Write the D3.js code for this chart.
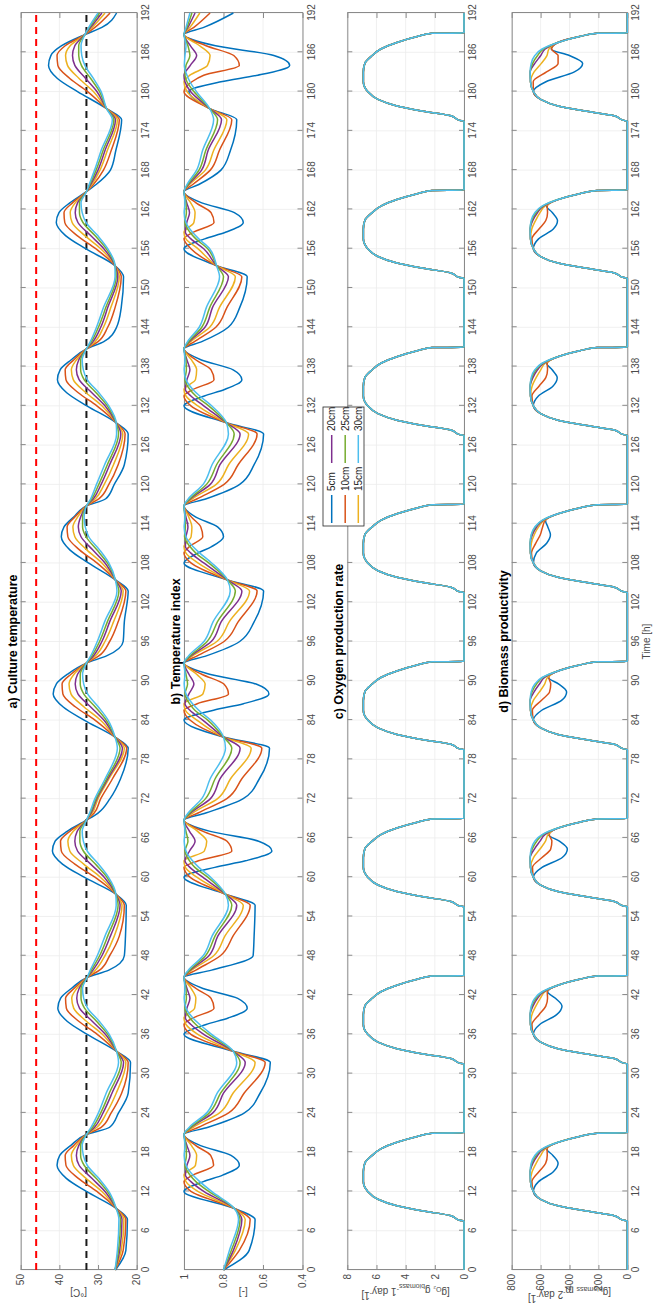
<!DOCTYPE html>
<html>
<head>
<meta charset="utf-8">
<script src="https://cdn.jsdelivr.net/npm/d3@7"></script>
<style>
  body { margin: 0; background: #fff; }
  text { font-family: "Liberation Sans", Arial, sans-serif; }
</style>
</head>
<body>
<svg id="chart" width="656" height="1311"></svg>
<script>
const depthLabels = ["5cm", "10cm", "15cm", "20cm", "25cm", "30cm"];
const depthColors = ["#0072BD", "#D95319", "#EDB120", "#7E2F8E", "#77AC30", "#4DBEEE"];
const timeTicks = [0, 6, 12, 18, 24, 30, 36, 42, 48, 54, 60, 66, 72, 78, 84, 90, 96, 102, 108, 114, 120, 126, 132, 138, 144, 150, 156, 162, 168, 174, 180, 186, 192];

// a) culture temperature [°C]
const tempHours = [
  0, 3, 7.7, 9.4, 12, 14, 16, 17.5, 19, 20.7, 21.8,
  24, 27, 31.7, 33.4, 36, 38, 40, 41.5, 43, 44.7, 45.8,
  48, 51, 55.7, 57.4, 60, 62, 64, 65.5, 67, 68.7, 69.8,
  72, 75, 79.7, 81.4, 84, 86, 88, 89.5, 91, 92.7, 93.8,
  96, 99, 103.7, 105.4, 108, 110, 112, 113.5, 115, 116.7, 117.8,
  120, 123, 127.7, 129.4, 132, 134, 136, 137.5, 139, 140.7, 141.8,
  144, 147, 151.7, 153.4, 156, 158, 160, 161.5, 163, 164.7, 165.8,
  168, 171, 175.7, 177.4, 180, 182, 184, 185.5, 187, 188.7, 189.8,
  192];
const temp5 = [
  25.5, 22.8, 22.4, 25.3, 33.0, 38.2, 40.6, 39.9, 37.1, 33.0, 27.0,
  24.7, 22.2, 21.6, 25.2, 32.8, 38.0, 40.4, 39.7, 36.9, 32.8, 27.2,
  23.2, 22.9, 22.7, 25.4, 33.6, 39.2, 41.8, 41.1, 38.0, 33.0, 30.0,
  26.9, 24.2, 22.2, 25.6, 33.6, 39.0, 41.6, 40.8, 37.9, 33.0, 27.8,
  23.5, 23.2, 22.2, 25.5, 32.5, 37.3, 39.5, 38.8, 36.3, 33.0, 28.0,
  25.8, 23.2, 22.2, 25.3, 32.9, 38.1, 40.5, 39.8, 37.0, 33.0, 28.5,
  25.2, 24.0, 23.4, 25.6, 33.2, 38.4, 40.8, 40.1, 37.3, 33.0, 30.5,
  26.8, 25.4, 23.9, 27.8, 35.3, 40.5, 42.8, 42.2, 39.4, 33.4, 29.0,
  25.2];
const temp10 = [
  25.6, 23.5, 22.8, 25.3, 30.3, 35.1, 38.3, 38.5, 36.3, 33.0, 29.2,
  26.6, 23.9, 22.2, 25.2, 30.2, 35.0, 38.2, 38.4, 36.2, 32.8, 29.6,
  27.0, 24.5, 23.2, 25.4, 30.8, 36.0, 39.5, 39.7, 37.3, 33.0, 31.0,
  29.3, 26.3, 22.6, 25.6, 30.8, 35.8, 39.1, 39.3, 37.0, 33.0, 29.8,
  27.0, 24.8, 22.8, 25.5, 30.3, 34.8, 37.8, 38.0, 36.0, 33.0, 29.8,
  27.2, 24.8, 23.0, 25.3, 30.3, 35.1, 38.3, 38.5, 36.3, 33.0, 30.0,
  27.5, 25.6, 24.0, 25.6, 30.6, 35.4, 38.6, 38.8, 36.6, 33.0, 31.2,
  28.6, 26.6, 24.5, 27.8, 32.7, 37.3, 40.4, 40.6, 38.5, 33.4, 30.8,
  26.9];
const temp15 = [
  25.6, 24.0, 23.3, 25.3, 29.0, 33.1, 36.4, 36.9, 35.6, 33.0, 30.3,
  27.8, 25.3, 22.8, 25.2, 28.9, 33.0, 36.3, 36.8, 35.5, 32.8, 30.7,
  28.2, 25.8, 23.8, 25.4, 29.4, 33.7, 37.3, 37.8, 36.4, 33.0, 31.5,
  30.0, 27.2, 23.2, 25.6, 29.4, 33.6, 37.0, 37.5, 36.2, 33.0, 30.7,
  28.2, 26.0, 23.5, 25.5, 29.0, 32.9, 36.0, 36.5, 35.3, 33.0, 30.7,
  28.4, 26.0, 23.6, 25.3, 29.0, 33.1, 36.4, 36.9, 35.6, 33.0, 30.8,
  28.6, 26.7, 24.5, 25.6, 29.3, 33.4, 36.7, 37.2, 35.9, 33.0, 31.6,
  29.5, 27.6, 25.0, 27.8, 31.2, 34.9, 37.9, 38.4, 37.2, 33.4, 31.5,
  28.2];
const temp20 = [
  25.6, 24.4, 23.8, 25.3, 28.2, 31.6, 34.9, 35.6, 35.0, 33.0, 30.9,
  28.7, 26.4, 23.4, 25.2, 28.1, 31.5, 34.8, 35.5, 34.9, 32.8, 31.3,
  29.0, 26.8, 24.3, 25.4, 28.4, 31.9, 35.3, 36.0, 35.4, 33.0, 31.8,
  30.3, 27.5, 23.7, 25.6, 28.5, 31.9, 35.2, 35.9, 35.3, 33.0, 31.2,
  29.0, 27.0, 24.0, 25.5, 28.2, 31.4, 34.4, 35.1, 34.5, 33.0, 31.2,
  29.2, 27.0, 24.1, 25.3, 28.2, 31.6, 34.9, 35.6, 35.0, 33.0, 31.3,
  29.3, 27.5, 24.9, 25.6, 28.5, 31.9, 35.2, 35.9, 35.3, 33.0, 31.9,
  30.0, 28.2, 25.5, 27.8, 30.3, 33.2, 36.0, 36.6, 36.0, 33.4, 31.9,
  29.0];
const temp25 = [
  25.6, 24.7, 24.2, 25.3, 27.6, 30.5, 33.6, 34.5, 34.5, 33.0, 31.4,
  29.3, 27.1, 24.0, 25.2, 27.5, 30.4, 33.5, 34.4, 34.4, 32.8, 31.7,
  29.6, 27.5, 24.8, 25.4, 27.7, 30.7, 33.8, 34.7, 34.7, 33.0, 32.0,
  30.5, 27.8, 24.3, 25.6, 27.9, 30.7, 33.7, 34.6, 34.6, 33.0, 31.6,
  29.6, 27.6, 24.6, 25.5, 27.6, 30.3, 33.1, 34.0, 34.0, 33.0, 31.6,
  29.8, 27.6, 24.7, 25.3, 27.6, 30.5, 33.6, 34.5, 34.5, 33.0, 31.7,
  29.9, 28.0, 25.3, 25.6, 27.9, 30.8, 33.9, 34.8, 34.8, 33.0, 32.1,
  30.5, 28.7, 25.9, 27.8, 29.6, 31.9, 34.3, 35.0, 35.0, 33.4, 32.2,
  29.6];
const temp30 = [
  25.6, 25.0, 24.6, 25.3, 27.2, 29.8, 32.8, 33.8, 34.1, 33.0, 31.8,
  29.9, 27.9, 24.7, 25.2, 27.1, 29.7, 32.7, 33.7, 34.0, 32.8, 32.0,
  30.2, 28.2, 25.3, 25.4, 27.3, 29.9, 32.8, 33.8, 34.1, 33.0, 32.2,
  30.8, 28.2, 25.0, 25.6, 27.4, 29.9, 32.7, 33.7, 34.0, 33.0, 31.9,
  30.2, 28.3, 25.1, 25.5, 27.2, 29.6, 32.4, 33.3, 33.6, 33.0, 31.9,
  30.4, 28.3, 25.2, 25.3, 27.2, 29.8, 32.8, 33.8, 34.1, 33.0, 32.0,
  30.4, 28.6, 25.6, 25.6, 27.5, 30.1, 33.1, 34.1, 34.4, 33.0, 32.3,
  30.9, 29.2, 26.3, 27.8, 29.2, 31.2, 33.4, 34.2, 34.4, 33.4, 32.4,
  30.0];
const tempOptimum = 33;
const tempMaximum = 46;

// b) temperature index [-]
const indexHours = [
  0, 3, 7.7, 9.4, 12, 13.5, 14.5, 16, 17.5, 19, 20.7, 21.8,
  24, 27, 31.7, 33.4, 36, 37.5, 38.5, 40, 41.5, 43, 44.7, 45.8,
  48, 51, 55.7, 57.4, 60, 61.5, 62.5, 64, 65.5, 67, 68.7, 69.8,
  72, 75, 79.7, 81.4, 84, 85.5, 86.5, 88, 89.5, 91, 92.7, 93.8,
  96, 99, 103.7, 105.4, 108, 109.5, 110.5, 112, 113.5, 115, 116.7, 117.8,
  120, 123, 127.7, 129.4, 132, 133.5, 134.5, 136, 137.5, 139, 140.7, 141.8,
  144, 147, 151.7, 153.4, 156, 157.5, 158.5, 160, 161.5, 163, 164.7, 165.8,
  168, 171, 175.7, 177.4, 180, 181.5, 182.5, 184, 185.5, 187, 188.7, 189.8,
  192];
const index5 = [
  0.80, 0.67, 0.64, 0.745, 1, 0.902, 0.804, 0.72, 0.762, 0.916, 1, 0.878,
  0.694, 0.615, 0.563, 0.75, 1, 0.888, 0.776, 0.68, 0.728, 0.904, 1, 0.86,
  0.65, 0.645, 0.64, 0.79, 1, 0.844, 0.689, 0.555, 0.622, 0.867, 1, 0.89,
  0.70, 0.619, 0.567, 0.80, 1, 0.85, 0.699, 0.57, 0.635, 0.871, 1, 0.887,
  0.718, 0.645, 0.597, 0.78, 1, 0.93, 0.86, 0.80, 0.83, 0.94, 1, 0.887,
  0.718, 0.645, 0.597, 0.785, 1, 0.897, 0.795, 0.707, 0.751, 0.912, 1, 0.91,
  0.776, 0.718, 0.68, 0.835, 1, 0.895, 0.79, 0.70, 0.745, 0.91, 1, 0.925,
  0.813, 0.765, 0.733, 0.87, 0.975, 0.813, 0.626, 0.465, 0.545, 0.84, 1, 0.90,
  0.75];
const index10 = [
  0.80, 0.72, 0.665, 0.745, 0.965, 1, 0.955, 0.85, 0.865, 0.94, 1, 0.926,
  0.774, 0.696, 0.589, 0.75, 0.965, 1, 0.954, 0.848, 0.863, 0.939, 1, 0.94,
  0.816, 0.752, 0.665, 0.79, 0.97, 1, 0.927, 0.758, 0.782, 0.903, 1, 0.929,
  0.783, 0.708, 0.606, 0.80, 0.97, 1, 0.933, 0.775, 0.798, 0.91, 1, 0.933,
  0.797, 0.726, 0.63, 0.78, 0.965, 1, 0.972, 0.905, 0.915, 0.962, 1, 0.933,
  0.797, 0.726, 0.63, 0.785, 0.965, 1, 0.954, 0.848, 0.863, 0.939, 1, 0.947,
  0.839, 0.783, 0.707, 0.835, 0.965, 1, 0.954, 0.848, 0.863, 0.939, 1, 0.956,
  0.867, 0.821, 0.758, 0.87, 1, 0.96, 0.9, 0.72, 0.748, 0.888, 1, 0.95,
  0.868];
const index15 = [
  0.80, 0.74, 0.69, 0.745, 0.93, 0.99, 1, 0.942, 0.936, 0.962, 1, 0.953,
  0.82, 0.752, 0.64, 0.75, 0.93, 0.99, 1, 0.946, 0.94, 0.964, 1, 0.961,
  0.85, 0.793, 0.70, 0.79, 0.935, 0.993, 1, 0.897, 0.885, 0.931, 1, 0.956,
  0.83, 0.765, 0.66, 0.80, 0.935, 0.993, 1, 0.904, 0.893, 0.936, 1, 0.957,
  0.834, 0.771, 0.668, 0.78, 0.93, 0.99, 1, 0.964, 0.96, 0.976, 1, 0.957,
  0.837, 0.774, 0.673, 0.785, 0.93, 0.99, 1, 0.942, 0.936, 0.962, 1, 0.966,
  0.87, 0.821, 0.74, 0.835, 0.93, 0.99, 1, 0.95, 0.944, 0.966, 1, 0.972,
  0.892, 0.85, 0.783, 0.87, 0.985, 1, 0.97, 0.881, 0.868, 0.921, 1, 0.97,
  0.92];
const index20 = [
  0.80, 0.75, 0.707, 0.745, 0.90, 0.965, 0.993, 0.985, 0.97, 0.985, 1, 0.963,
  0.854, 0.80, 0.69, 0.75, 0.90, 0.965, 0.993, 0.985, 0.97, 0.985, 1, 0.968,
  0.874, 0.829, 0.733, 0.79, 0.905, 0.97, 0.995, 0.972, 0.944, 0.972, 1, 0.966,
  0.866, 0.818, 0.716, 0.80, 0.905, 0.97, 0.995, 0.975, 0.95, 0.975, 1, 0.965,
  0.862, 0.812, 0.707, 0.78, 0.90, 0.965, 0.993, 0.99, 0.98, 0.99, 1, 0.966,
  0.867, 0.818, 0.716, 0.785, 0.90, 0.965, 0.993, 0.985, 0.97, 0.985, 1, 0.973,
  0.894, 0.856, 0.775, 0.835, 0.90, 0.965, 0.993, 0.986, 0.972, 0.986, 1, 0.977,
  0.911, 0.878, 0.81, 0.87, 0.967, 0.995, 1, 0.968, 0.936, 0.968, 1, 0.98,
  0.944];
const index25 = [
  0.80, 0.76, 0.716, 0.745, 0.875, 0.94, 0.97, 0.995, 0.988, 0.99, 1, 0.966,
  0.872, 0.815, 0.716, 0.75, 0.875, 0.94, 0.97, 0.995, 0.988, 0.99, 1, 0.971,
  0.891, 0.843, 0.758, 0.79, 0.88, 0.945, 0.972, 0.995, 0.98, 0.99, 1, 0.971,
  0.891, 0.843, 0.758, 0.80, 0.88, 0.945, 0.972, 0.995, 0.982, 0.99, 1, 0.969,
  0.883, 0.831, 0.74, 0.78, 0.875, 0.94, 0.97, 0.997, 0.993, 0.995, 1, 0.97,
  0.886, 0.835, 0.746, 0.785, 0.875, 0.94, 0.97, 0.995, 0.988, 0.99, 1, 0.976,
  0.91, 0.87, 0.80, 0.835, 0.88, 0.94, 0.97, 0.995, 0.988, 0.99, 1, 0.98,
  0.924, 0.89, 0.83, 0.87, 0.95, 0.985, 0.995, 0.99, 0.97, 0.98, 1, 0.985,
  0.96];
const index30 = [
  0.80, 0.77, 0.724, 0.745, 0.86, 0.92, 0.955, 0.99, 0.999, 0.995, 1, 0.973,
  0.885, 0.832, 0.733, 0.75, 0.86, 0.92, 0.955, 0.99, 0.999, 0.995, 1, 0.978,
  0.903, 0.858, 0.775, 0.79, 0.865, 0.925, 0.957, 0.99, 0.999, 0.995, 1, 0.979,
  0.91, 0.868, 0.79, 0.80, 0.865, 0.925, 0.957, 0.99, 0.999, 0.995, 1, 0.977,
  0.899, 0.853, 0.766, 0.78, 0.86, 0.92, 0.955, 0.99, 0.999, 0.995, 1, 0.978,
  0.903, 0.858, 0.775, 0.785, 0.86, 0.92, 0.955, 0.99, 0.999, 0.995, 1, 0.982,
  0.923, 0.887, 0.82, 0.835, 0.87, 0.925, 0.957, 0.99, 0.999, 0.995, 1, 0.985,
  0.936, 0.906, 0.85, 0.87, 0.937, 0.97, 0.985, 0.998, 0.995, 0.99, 1, 0.99,
  0.97];

// c) oxygen production rate and d) biomass productivity
const prodHours = [
  0, 7.5, 7.6, 8.3, 9, 9.8, 10.8, 12, 13.5, 15, 16.3, 17.5, 18.5, 19.5, 20.4, 20.9, 20.95,
  24, 31.5, 31.6, 32.3, 33, 33.8, 34.8, 36, 37.5, 39, 40.3, 41.5, 42.5, 43.5, 44.4, 44.9, 44.95,
  48, 55.5, 55.6, 56.3, 57, 57.8, 58.8, 60, 61.5, 63, 64.3, 65.5, 66.5, 67.5, 68.4, 68.9, 68.95,
  72, 79.5, 79.6, 80.3, 81, 81.8, 82.8, 84, 85.5, 87, 88.3, 89.5, 90.5, 91.5, 92.4, 92.9, 92.95,
  96, 103.5, 103.6, 104.3, 105, 105.8, 106.8, 108, 109.5, 111, 112.3, 113.5, 114.5, 115.5, 116.4, 116.9, 116.95,
  120, 127.5, 127.6, 128.3, 129, 129.8, 130.8, 132, 133.5, 135, 136.3, 137.5, 138.5, 139.5, 140.4, 140.9, 140.95,
  144, 151.5, 151.6, 152.3, 153, 153.8, 154.8, 156, 157.5, 159, 160.3, 161.5, 162.5, 163.5, 164.4, 164.9, 164.95,
  168, 175.5, 175.6, 176.3, 177, 177.8, 178.8, 180, 181.5, 183, 184.3, 185.5, 186.5, 187.5, 188.4, 188.9, 188.95,
  192];
const o2Rate = [
  0, 0, 0.3, 0.9, 2.8, 4.6, 5.9, 6.6, 6.9, 6.9, 6.8, 6.3, 5.7, 4.6, 3.2, 2.2, 0,
  0, 0, 0.3, 0.9, 2.8, 4.6, 5.9, 6.6, 6.9, 6.9, 6.8, 6.3, 5.7, 4.6, 3.2, 2.2, 0,
  0, 0, 0.3, 0.9, 2.8, 4.6, 5.9, 6.6, 6.9, 6.9, 6.8, 6.3, 5.7, 4.6, 3.2, 2.2, 0,
  0, 0, 0.3, 0.9, 2.8, 4.6, 5.9, 6.6, 6.9, 6.9, 6.8, 6.3, 5.7, 4.6, 3.2, 2.2, 0,
  0, 0, 0.3, 0.9, 2.8, 4.6, 5.9, 6.6, 6.9, 6.9, 6.8, 6.3, 5.7, 4.6, 3.2, 2.2, 0,
  0, 0, 0.3, 0.9, 2.8, 4.6, 5.9, 6.6, 6.9, 6.9, 6.8, 6.3, 5.7, 4.6, 3.2, 2.2, 0,
  0, 0, 0.3, 0.9, 2.8, 4.6, 5.9, 6.6, 6.9, 6.9, 6.8, 6.3, 5.7, 4.6, 3.2, 2.2, 0,
  0, 0, 0.3, 0.9, 2.8, 4.6, 5.9, 6.6, 6.9, 6.9, 6.8, 6.3, 5.7, 4.6, 3.2, 2.2, 0,
  0];
const bio5 = [
  0, 0, 25, 90, 280, 480, 600, 650, 614, 512, 479, 515, 557, 480, 330, 210, 0,
  0, 0, 25, 90, 280, 480, 600, 650, 606, 489, 452, 497, 552, 480, 330, 210, 0,
  0, 0, 25, 90, 280, 480, 600, 650, 590, 450, 415, 470, 545, 480, 330, 210, 0,
  0, 0, 25, 90, 280, 480, 600, 650, 592, 455, 420, 474, 547, 480, 330, 210, 0,
  0, 0, 25, 90, 280, 480, 600, 650, 630, 558, 532, 550, 566, 480, 330, 210, 0,
  0, 0, 25, 90, 280, 480, 600, 650, 615, 515, 485, 520, 558, 480, 330, 210, 0,
  0, 0, 25, 90, 280, 480, 600, 650, 614, 512, 483, 518, 558, 480, 330, 210, 0,
  0, 0, 25, 90, 280, 480, 600, 650, 563, 366, 309, 401, 527, 480, 330, 210, 0,
  0];
const bio10 = [
  0, 0, 25, 90, 280, 480, 600, 650, 660, 612, 565, 554, 555, 480, 330, 210, 0,
  0, 0, 25, 90, 280, 480, 600, 650, 660, 611, 564, 552, 554, 480, 330, 210, 0,
  0, 0, 25, 90, 280, 480, 600, 650, 656, 590, 530, 522, 540, 480, 330, 210, 0,
  0, 0, 25, 90, 280, 480, 600, 650, 657, 595, 538, 530, 543, 480, 330, 210, 0,
  0, 0, 25, 90, 280, 480, 600, 650, 663, 634, 602, 586, 568, 480, 330, 210, 0,
  0, 0, 25, 90, 280, 480, 600, 650, 660, 611, 564, 552, 554, 480, 330, 210, 0,
  0, 0, 25, 90, 280, 480, 600, 650, 660, 611, 564, 552, 554, 480, 330, 210, 0,
  0, 0, 25, 90, 280, 480, 600, 650, 651, 559, 479, 479, 524, 480, 330, 210, 0,
  0];
const bio15 = [
  0, 0, 25, 90, 280, 480, 600, 650, 670, 659, 631, 599, 568, 480, 330, 210, 0,
  0, 0, 25, 90, 280, 480, 600, 650, 670, 660, 633, 602, 569, 480, 330, 210, 0,
  0, 0, 25, 90, 280, 480, 600, 650, 670, 649, 604, 566, 549, 480, 330, 210, 0,
  0, 0, 25, 90, 280, 480, 600, 650, 670, 650, 608, 572, 552, 480, 330, 210, 0,
  0, 0, 25, 90, 280, 480, 600, 650, 670, 664, 644, 614, 576, 480, 330, 210, 0,
  0, 0, 25, 90, 280, 480, 600, 650, 670, 659, 631, 599, 568, 480, 330, 210, 0,
  0, 0, 25, 90, 280, 480, 600, 650, 670, 661, 635, 604, 570, 480, 330, 210, 0,
  0, 0, 25, 90, 280, 480, 600, 650, 670, 645, 595, 556, 543, 480, 330, 210, 0,
  0];
const bio20 = [
  0, 0, 25, 90, 280, 480, 600, 650, 670, 672, 653, 621, 579, 480, 330, 210, 0,
  0, 0, 25, 90, 280, 480, 600, 650, 670, 672, 653, 621, 579, 480, 330, 210, 0,
  0, 0, 25, 90, 280, 480, 600, 650, 670, 672, 643, 604, 570, 480, 330, 210, 0,
  0, 0, 25, 90, 280, 480, 600, 650, 670, 672, 645, 608, 572, 480, 330, 210, 0,
  0, 0, 25, 90, 280, 480, 600, 650, 670, 672, 657, 627, 583, 480, 330, 210, 0,
  0, 0, 25, 90, 280, 480, 600, 650, 670, 672, 653, 621, 579, 480, 330, 210, 0,
  0, 0, 25, 90, 280, 480, 600, 650, 670, 672, 654, 622, 580, 480, 330, 210, 0,
  0, 0, 25, 90, 280, 480, 600, 650, 670, 672, 640, 599, 568, 480, 330, 210, 0,
  0];
const bio25 = [
  0, 0, 25, 90, 280, 480, 600, 650, 670, 672, 661, 632, 586, 480, 330, 210, 0,
  0, 0, 25, 90, 280, 480, 600, 650, 670, 672, 661, 632, 586, 480, 330, 210, 0,
  0, 0, 25, 90, 280, 480, 600, 650, 670, 672, 658, 627, 584, 480, 330, 210, 0,
  0, 0, 25, 90, 280, 480, 600, 650, 670, 672, 659, 628, 585, 480, 330, 210, 0,
  0, 0, 25, 90, 280, 480, 600, 650, 670, 672, 663, 636, 588, 480, 330, 210, 0,
  0, 0, 25, 90, 280, 480, 600, 650, 670, 672, 661, 632, 586, 480, 330, 210, 0,
  0, 0, 25, 90, 280, 480, 600, 650, 670, 672, 661, 632, 586, 480, 330, 210, 0,
  0, 0, 25, 90, 280, 480, 600, 650, 670, 672, 655, 621, 581, 480, 330, 210, 0,
  0];
const bio30 = [
  0, 0, 25, 90, 280, 480, 600, 650, 670, 672, 665, 640, 590, 480, 330, 210, 0,
  0, 0, 25, 90, 280, 480, 600, 650, 670, 672, 665, 640, 590, 480, 330, 210, 0,
  0, 0, 25, 90, 280, 480, 600, 650, 670, 672, 665, 640, 590, 480, 330, 210, 0,
  0, 0, 25, 90, 280, 480, 600, 650, 670, 672, 665, 640, 590, 480, 330, 210, 0,
  0, 0, 25, 90, 280, 480, 600, 650, 670, 672, 665, 640, 590, 480, 330, 210, 0,
  0, 0, 25, 90, 280, 480, 600, 650, 670, 672, 665, 640, 590, 480, 330, 210, 0,
  0, 0, 25, 90, 280, 480, 600, 650, 670, 672, 665, 640, 590, 480, 330, 210, 0,
  0, 0, 25, 90, 280, 480, 600, 650, 670, 672, 665, 640, 590, 480, 330, 210, 0,
  0];

const tempTicks = [20, 30, 40, 50];
const indexTicks = [0.4, 0.6, 0.8, 1];
const o2Ticks = [0, 2, 4, 6, 8];
const bioTicks = [0, 200, 400, 600, 800];

// figure is drawn landscape (1311 x 656) and turned a quarter to the left
const W = 1311;
const svg = d3.select("#chart");
const root = svg.append("g").attr("transform", `translate(0,${W}) rotate(-90)`);

const x = d3.scaleLinear().domain([0, 192]).range([41, 1298]);

const panels = [
  { title: "a) Culture temperature", top: 20.7, h: 116, domain: [20, 50], ticks: tempTicks,
    hours: tempHours, series: [temp5, temp10, temp15, temp20, temp25, temp30], label: "temp" },
  { title: "b) Temperature index", top: 184, h: 118.5, domain: [0.4, 1], ticks: indexTicks,
    hours: indexHours, series: [index5, index10, index15, index20, index25, index30], label: "index" },
  { title: "c) Oxygen production rate", top: 347.3, h: 116.7, domain: [0, 8], ticks: o2Ticks,
    hours: prodHours, series: [o2Rate, o2Rate, o2Rate, o2Rate, o2Rate, o2Rate], label: "o2" },
  { title: "d) Biomass productivity", top: 511.7, h: 115.6, domain: [0, 800], ticks: bioTicks,
    hours: prodHours, series: [bio5, bio10, bio15, bio20, bio25, bio30], label: "bio" }
];

const axisColor = "#8a8a8a";
const labelColor = "#4a4a4a";
const fmt = d3.format("~g");

panels.forEach((p, pi) => {
  const y = d3.scaleLinear().domain(p.domain).range([p.top + p.h, p.top]);
  const g = root.append("g");

  // grid
  g.append("g").selectAll("line").data(timeTicks).join("line")
    .attr("x1", d => x(d)).attr("x2", d => x(d))
    .attr("y1", p.top).attr("y2", p.top + p.h)
    .attr("stroke", "#ececec").attr("stroke-width", 0.8);
  g.append("g").selectAll("line").data(p.ticks).join("line")
    .attr("x1", x(0)).attr("x2", x(192))
    .attr("y1", d => y(d)).attr("y2", d => y(d))
    .attr("stroke", "#ececec").attr("stroke-width", 0.8);

  // axes with inward ticks
  const bottom = g.append("g").attr("transform", `translate(0,${p.top + p.h})`)
    .call(d3.axisBottom(x).tickValues(timeTicks).tickSizeInner(-5).tickSizeOuter(0).tickPadding(5));
  const topAx = g.append("g").attr("transform", `translate(0,${p.top})`)
    .call(d3.axisTop(x).tickValues(timeTicks).tickSizeInner(-5).tickSizeOuter(0).tickFormat(""));
  const left = g.append("g").attr("transform", `translate(${x(0)},0)`)
    .call(d3.axisLeft(y).tickValues(p.ticks).tickSizeInner(-5).tickSizeOuter(0).tickPadding(4).tickFormat(fmt));
  const right = g.append("g").attr("transform", `translate(${x(192)},0)`)
    .call(d3.axisRight(y).tickValues(p.ticks).tickSizeInner(-5).tickSizeOuter(0).tickFormat(""));
  [bottom, topAx, left, right].forEach(a => {
    a.select(".domain").attr("stroke", axisColor);
    a.selectAll(".tick line").attr("stroke", axisColor);
    a.selectAll("text").attr("fill", labelColor).attr("font-size", 10)
      .attr("font-family", "Liberation Sans, Arial, sans-serif");
  });

  // reference temperatures in panel a
  if (pi === 0) {
    g.append("line").attr("x1", x(0)).attr("x2", x(192))
      .attr("y1", y(tempMaximum)).attr("y2", y(tempMaximum))
      .attr("stroke", "#ff0000").attr("stroke-width", 2).attr("stroke-dasharray", "7,5");
    g.append("line").attr("x1", x(0)).attr("x2", x(192))
      .attr("y1", y(tempOptimum)).attr("y2", y(tempOptimum))
      .attr("stroke", "#1a1a1a").attr("stroke-width", 2).attr("stroke-dasharray", "7,5");
  }

  // depth series
  const line = d3.line().x(d => x(d[0])).y(d => y(d[1])).curve(d3.curveMonotoneX);
  p.series.forEach((vals, si) => {
    g.append("path")
      .datum(d3.zip(p.hours, vals))
      .attr("d", line)
      .attr("fill", "none")
      .attr("stroke", depthColors[si])
      .attr("stroke-width", 1.5)
      .attr("stroke-linejoin", "round");
  });

  // title
  g.append("text")
    .attr("x", (x(0) + x(192)) / 2).attr("y", p.top - 4)
    .attr("text-anchor", "middle").attr("font-weight", "bold").attr("font-size", 12.5)
    .attr("fill", "#000").text(p.title);

  // y label (rotated)
  const yl = g.append("text")
    .attr("transform", `translate(22,${p.top + p.h / 2}) rotate(-90)`)
    .attr("text-anchor", "middle").attr("font-size", 10).attr("fill", labelColor);
  const sub = (s) => { yl.append("tspan").attr("font-size", 7).attr("dy", 2.5).text(s); yl.append("tspan").attr("dy", -2.5).text(""); };
  const sup = (s) => { yl.append("tspan").attr("font-size", 7).attr("dy", -4).text(s); yl.append("tspan").attr("dy", 4).text(""); };
  const txt = (s) => yl.append("tspan").text(s);
  if (p.label === "temp") { txt("[°C]"); }
  else if (p.label === "index") { txt("[-]"); }
  else if (p.label === "o2") {
    txt("[g"); sub("O₂"); txt(" g"); sub("biomass"); sup("-"); txt("1 day"); sup("-"); txt("1]");
  } else {
    txt("[g"); sub("biomass"); txt(" m"); sup("-"); txt("2 day"); sup("-"); txt("1]");
  }
});

// x label
root.append("text")
  .attr("x", (x(0) + x(192)) / 2).attr("y", 650)
  .attr("text-anchor", "middle").attr("font-size", 10).attr("fill", labelColor)
  .text("Time [h]");

// legend (inside panel c)
const leg = root.append("g");
leg.append("rect").attr("x", 785).attr("y", 323).attr("width", 119).attr("height", 41)
  .attr("fill", "#fff").attr("stroke", "#262626").attr("stroke-width", 0.8);
const legCols = [788, 848];
const legRows = [331.7, 345.2, 358.3];
depthLabels.forEach((lab, i) => {
  const cx = legCols[Math.floor(i / 3)], cy = legRows[i % 3];
  leg.append("line").attr("x1", cx).attr("x2", cx + 28).attr("y1", cy).attr("y2", cy)
    .attr("stroke", depthColors[i]).attr("stroke-width", 1.5);
  leg.append("text").attr("x", cx + 32).attr("y", cy).attr("dy", "0.35em")
    .attr("font-size", 10).attr("fill", "#262626").text(lab);
});
</script>
</body>
</html>
